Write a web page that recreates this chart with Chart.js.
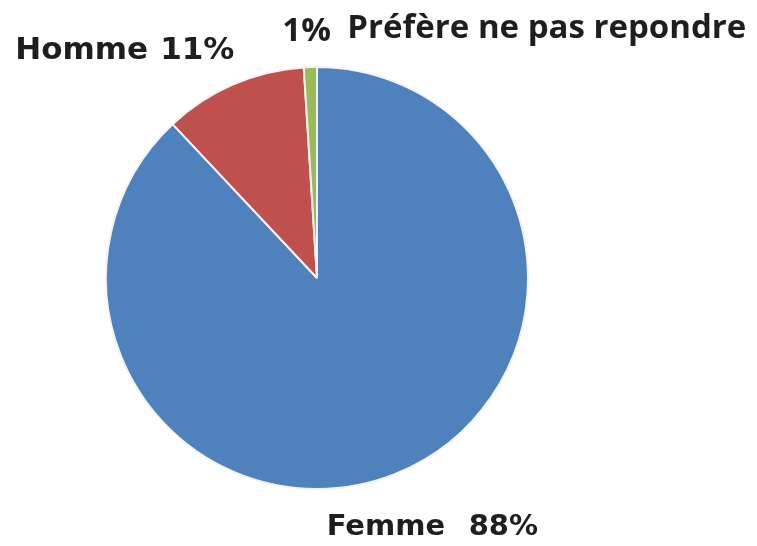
<!DOCTYPE html>
<html>
<head>
<meta charset="utf-8">
<script src="https://cdn.jsdelivr.net/npm/chart.js@4"></script>
<style>
  html, body { margin: 0; padding: 0; background: #ffffff; }
  #wrap { width: 757px; height: 546px; position: relative; }
</style>
</head>
<body>
<div id="wrap"><canvas id="c" width="757" height="546"></canvas></div>
<script>
// ---- data ----
const categories = ["Femme", "Homme", "Préfère ne pas repondre"];
const percentages = [88, 11, 1];
const sliceColors = ["#4F81BD", "#C0504D", "#9BBB59"];

// label layout: parts drawn relative to each slice's outer mid-point
const labelLayout = [
  [ { part: "cat", dx: -68, dy: 61, font: "bold 29px 'DejaVu Sans'" },
    { part: "pct", dx: 74,  dy: 61, font: "bold 29px 'DejaVu Sans'" } ],
  [ { part: "cat", dx: -218, dy: -25, font: "bold 31px 'DejaVu Sans'" },
    { part: "pct", dx: -73,  dy: -25, font: "bold 31px 'DejaVu Sans'" } ],
  [ { part: "pct", dx: -28, dy: -26, font: "bold 33px 'Open Sans'" },
    { part: "cat", dx: 37,  dy: -29, font: "bold 33px 'Open Sans'" } ]
];

const labelPlugin = {
  id: "sliceLabels",
  afterDraw(chart) {
    const ctx = chart.ctx;
    const meta = chart.getDatasetMeta(0);
    ctx.save();
    ctx.fillStyle = "#1e1e1e";
    ctx.textBaseline = "alphabetic";
    ctx.textAlign = "left";
    meta.data.forEach((arc, i) => {
      const p = arc.getProps(["x", "y", "startAngle", "endAngle", "outerRadius"], true);
      const mid = (p.startAngle + p.endAngle) / 2;
      const ax = p.x + Math.cos(mid) * p.outerRadius;
      const ay = p.y + Math.sin(mid) * p.outerRadius;
      labelLayout[i].forEach(L => {
        ctx.font = L.font;
        const txt = L.part === "cat" ? categories[i] : percentages[i] + "%";
        ctx.fillText(txt, ax + L.dx, ay + L.dy);
      });
    });
    ctx.restore();
  }
};

new Chart(document.getElementById("c"), {
  type: "pie",
  data: {
    labels: categories,
    datasets: [{
      data: percentages,
      backgroundColor: sliceColors,
      borderColor: "#f4f4f4",
      borderWidth: 2
    }]
  },
  options: {
    responsive: false,
    animation: false,
    rotation: 0,
    layout: { padding: { top: 66, bottom: 56, left: 105, right: 228 } },
    plugins: {
      legend: { display: false },
      tooltip: { enabled: false }
    }
  },
  plugins: [labelPlugin]
});
</script>
</body>
</html>
